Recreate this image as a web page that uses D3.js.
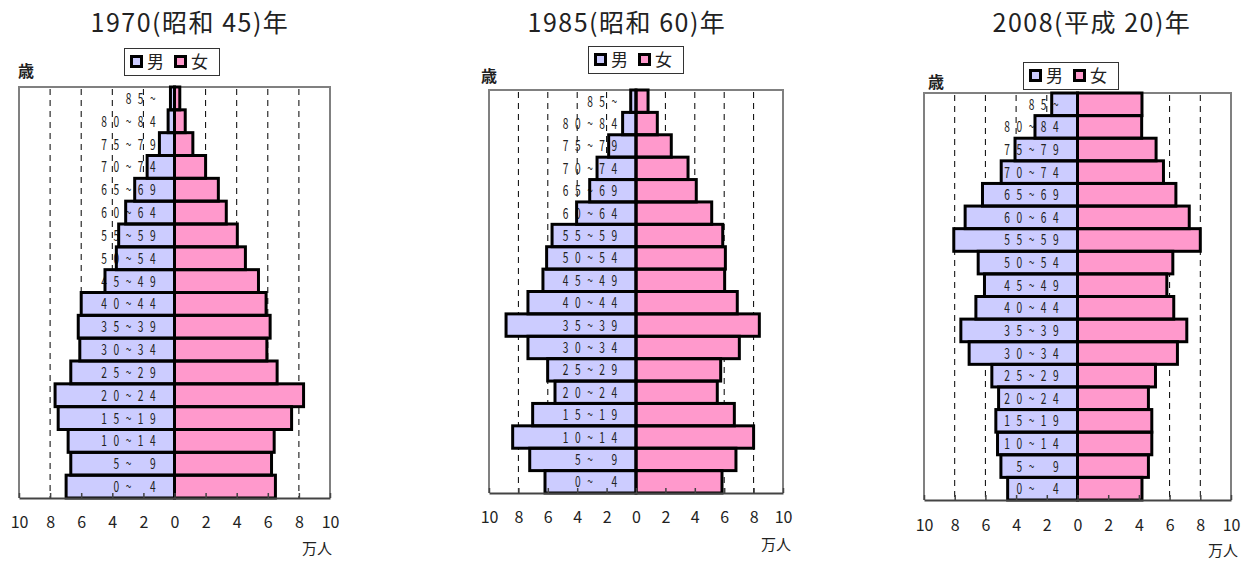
<!DOCTYPE html>
<html>
<head>
<meta charset="utf-8">
<script src="https://cdn.jsdelivr.net/npm/d3@7"></script>
<style>
html,body{margin:0;padding:0;background:#fff;}
svg{display:block;}
text{font-family:"Noto Sans CJK JP","Noto Sans",sans-serif;fill:#222;}
</style>
</head>
<body>
<svg id="chart" width="1249" height="561"></svg>
<script>
// ---- data (units: 万人) ----
const ageGroups = ["0~ 4","5~ 9","10~14","15~19","20~24","25~29","30~34","35~39","40~44","45~49","50~54","55~59","60~64","65~69","70~74","75~79","80~84","85~"];
const male1970   = [6.97,6.67,6.84,7.48,7.68,6.67,6.09,6.19,6.00,4.47,3.74,3.59,3.14,2.56,1.76,0.97,0.41,0.26];
const female1970 = [6.49,6.24,6.41,7.53,8.30,6.60,5.94,6.15,5.89,5.40,4.56,4.04,3.33,2.82,2.00,1.18,0.69,0.34];
const male1985   = [6.19,7.23,8.39,7.03,5.51,6.01,7.35,8.84,7.35,6.33,6.08,5.71,4.04,3.15,2.65,1.86,0.91,0.36];
const female1985 = [5.85,6.80,8.00,6.69,5.53,5.76,7.03,8.39,6.89,6.03,6.08,5.90,5.15,4.10,3.54,2.40,1.45,0.82];
const male2008   = [4.55,4.99,5.21,5.32,5.14,5.58,7.06,7.60,6.62,6.06,6.47,8.06,7.32,6.19,4.97,4.07,2.77,1.68];
const female2008 = [4.20,4.62,4.84,4.84,4.62,5.08,6.51,7.12,6.27,5.82,6.21,8.00,7.28,6.41,5.60,5.12,4.18,4.20];
const titles = ["1970(昭和 45)年","1985(昭和 60)年","2008(平成 20)年"];
const tickValues = [-10,-8,-6,-4,-2,0,2,4,6,8,10];
const gridValues = [-8,-6,-4,-2,2,4,6,8];
const legendLabels = ["男","女"];
const unitLabel = "万人";
const ageUnitLabel = "歳";

// ---- layout ----
const colors = {male:"#CCCCFF", female:"#FF99CC"};
const panels = [
  {title:titles[0], male:male1970, female:female1970,
   left:19, right:330, top:87, bottom:498, titleX:190, titleY:32,
   legX:124, legY:48, sai:[18,77], tickY:528, unitXY:[332,554]},
  {title:titles[1], male:male1985, female:female1985,
   left:489, right:783, top:90, bottom:493, titleX:627, titleY:32,
   legX:588, legY:46, sai:[481,82], tickY:523, unitXY:[791,550]},
  {title:titles[2], male:male2008, female:female2008,
   left:924, right:1231, top:93, bottom:500, titleX:1092, titleY:32,
   legX:1023, legY:62, sai:[928,88], tickY:531, unitXY:[1238,556]}
];

const svg = d3.select("#chart");

panels.forEach(p => {
  const g = svg.append("g");
  const x = d3.scaleLinear().domain([-10,10]).range([p.left,p.right]);
  const y = d3.scaleBand().domain(ageGroups.slice().reverse()).range([p.top,p.bottom]).padding(0);
  const rows = ageGroups.map((a,i)=>({age:a, m:p.male[i], f:p.female[i]}));

  // title
  g.append("text").attr("x",p.titleX).attr("y",p.titleY)
    .attr("text-anchor","middle").attr("font-size",25)
    .attr("letter-spacing",1.5)
    .attr("fill","#222")
    .text(p.title);

  // 歳
  g.append("text").attr("x",p.sai[0]).attr("y",p.sai[1])
    .attr("font-size",16).attr("font-weight","bold").text(ageUnitLabel);

  // legend
  const lg = g.append("g").attr("transform",`translate(${p.legX},${p.legY})`);
  lg.append("rect").attr("x",0.5).attr("y",0.5).attr("width",95).attr("height",27)
    .attr("fill","#fff").attr("stroke","#333").attr("stroke-width",1);
  [[colors.male,legendLabels[0],6],[colors.female,legendLabels[1],50]].forEach(([c,t,ox])=>{
    lg.append("rect").attr("x",ox+1.5).attr("y",8.5).attr("width",10).attr("height",10)
      .attr("fill",c).attr("stroke","#000").attr("stroke-width",3);
    lg.append("text").attr("x",ox+17).attr("y",20).attr("font-size",17).text(t);
  });

  // frame (top/left/right)
  g.append("path")
    .attr("d",`M${p.left},${p.bottom} V${p.top} H${p.right} V${p.bottom}`)
    .attr("fill","none").attr("stroke","#808080").attr("stroke-width",2);

  // gridlines
  g.selectAll(".grid").data(gridValues).enter().append("line")
    .attr("x1",d=>x(d)).attr("x2",d=>x(d)).attr("y1",p.top+2).attr("y2",p.bottom)
    .attr("stroke","#000").attr("stroke-width",1).attr("stroke-dasharray","6,5");

  // bar fills
  g.selectAll(".mf").data(rows).enter().append("rect")
    .attr("x",d=>x(-d.m)).attr("y",d=>y(d.age)).attr("width",d=>x(0)-x(-d.m)).attr("height",y.bandwidth())
    .attr("fill",colors.male);
  g.selectAll(".ff").data(rows).enter().append("rect")
    .attr("x",x(0)).attr("y",d=>y(d.age)).attr("width",d=>x(d.f)-x(0)).attr("height",y.bandwidth())
    .attr("fill",colors.female);

  // age labels (fixed character slots, right aligned)
  const slot = 12.2, labRight = x(0) - 15.5;
  rows.forEach(d=>{
    const chars = d.age.split("");
    const n = chars.length;
    chars.forEach((c,i)=>{
      if(c===" ") return;
      const cx = labRight - (n-1-i)*slot - slot/2;
      g.append("text")
        .attr("x", cx)
        .attr("y", y(d.age)+y.bandwidth()/2+5.5)
        .attr("text-anchor","middle")
        .attr("font-size",15)
        .attr("font-family","'Liberation Sans',sans-serif")
        .attr("transform",`translate(${cx},0) scale(0.68,1) translate(${-cx},0)`)
        .attr("fill","#111")
        .text(c);
    });
  });

  // bar outlines
  g.selectAll(".mo").data(rows).enter().append("rect")
    .attr("x",d=>x(-d.m)).attr("y",d=>y(d.age)).attr("width",d=>x(0)-x(-d.m)).attr("height",y.bandwidth())
    .attr("fill","none").attr("stroke","#000").attr("stroke-width",3);
  g.selectAll(".fo").data(rows).enter().append("rect")
    .attr("x",x(0)).attr("y",d=>y(d.age)).attr("width",d=>x(d.f)-x(0)).attr("height",y.bandwidth())
    .attr("fill","none").attr("stroke","#000").attr("stroke-width",3);

  // bottom axis
  const ax = g.append("g").attr("transform",`translate(0,${p.bottom})`)
    .call(d3.axisBottom(x).tickValues(tickValues).tickFormat(d=>Math.abs(d)).tickSizeInner(-5).tickSizeOuter(0));
  ax.select(".domain").attr("stroke","#444").attr("stroke-width",2);
  ax.selectAll(".tick line").attr("stroke","#444").attr("stroke-width",1.5);
  ax.selectAll(".tick text").attr("dy",null).attr("y",p.tickY-p.bottom)
    .attr("font-size",16).attr("font-family","'Noto Sans CJK JP',sans-serif").attr("fill","#222");

  // 万人
  g.append("text").attr("x",p.unitXY[0]).attr("y",p.unitXY[1])
    .attr("text-anchor","end").attr("font-size",15).text(unitLabel);
});
</script>
</body>
</html>
